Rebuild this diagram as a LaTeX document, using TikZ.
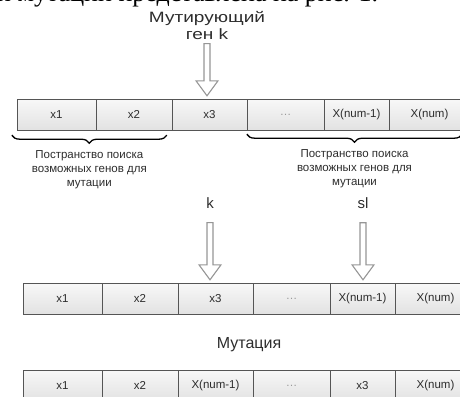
\documentclass[tikz,border=0pt]{standalone}
\usepackage{fontspec}
\setmainfont{Liberation Sans}
\newfontfamily\pageserif{Liberation Serif}
\newfontfamily\widesans[FakeStretch=1.27]{Liberation Sans}
\usepackage{tikz}
\usetikzlibrary{positioning,calc,decorations.pathreplacing}
\definecolor{cellhi}{RGB}{248,248,248}
\definecolor{celllo}{RGB}{226,226,226}
\definecolor{cellrule}{RGB}{85,85,85}
\definecolor{labtxt}{RGB}{45,45,45}
\definecolor{arrgray}{RGB}{150,150,150}
% hollow block arrow pointing down from #2 to #3, #1 = gap below #2
\newcommand{\hollowdown}[3][2]{%
  \draw[hollow] let \p1=(#2.south), \p2=(#3.north) in
    (\x1-3pt,\y1-#1pt) -- (\x1-3pt,\y2+18pt) -- (\x1-11pt,\y2+18pt) -- (\x1,\y2+3pt)
    -- (\x1+11pt,\y2+18pt) -- (\x1+3pt,\y2+18pt) -- (\x1+3pt,\y1-#1pt) -- cycle;}

\begin{document}
\begin{tikzpicture}[x=1pt,y=-1pt,font=\fontsize{11.5}{14}\selectfont,
  cell/.style={draw=cellrule,top color=cellhi,bottom color=celllo,minimum height=31pt,inner sep=0pt,text=labtxt},
  big/.style={font=\fontsize{15}{20}\selectfont,text=labtxt,inner sep=0pt},
  hollow/.style={draw=arrgray,fill=white,line width=1.1pt,line join=miter},
  curly/.style={decorate,decoration={brace,amplitude=8pt,mirror},line width=1.3pt},
  note/.style={align=center,text=labtxt,inner sep=0pt}]
  \useasboundingbox (0,0) rectangle (460,396);
  \begin{scope}
  \clip (0,0) rectangle (460,396);
  \node[anchor=base west,inner sep=0pt] (pagetxt) at (-3,2)
    {\pageserif\fontsize{26pt}{30pt}\selectfont и мутации представлена на рис. 1.};
  % chromosome rows: before, marked genes, after mutation
  \foreach \r/\y/\dx in {1/99/0, 2/283/6, 3/370/6} {
    \foreach \c/\xl/\xr/\before/\after in {1/17/96/x1/x1, 2/96/172/x2/x2, 3/172/247/x3/X(num-1),
        4/247/324/{\color{black!40}\ldots}/{\color{black!40}\ldots},
        5/324/389/X(num-1)/x3, 6/389/470/X(num)/X(num)} {
      \node[cell,minimum width={\xr pt-\xl pt}] (r\r-\c) at ({(\xl+\xr)/2+\dx},{\y+15.5})
        {\ifnum\r=3 \after\else\before\fi};
    }
  }
  % labels and arrows
  \node[big,align=center,anchor=north,font=\widesans\fontsize{15}{17}\selectfont] (genk) at (207,11)
    {Мутирующий\\ген k};
  \hollowdown[4]{genk}{r1-3}
  \node[big] (lblk) at (210,203) {k};
  \node[big] (lblsl) at (363,203) {sl};
  \hollowdown[14]{lblk}{r2-3}
  \hollowdown[14]{lblsl}{r2-5}
  \node[big,font=\fontsize{16}{20}\selectfont] (mut) at (249,345) {Мутация};
  % search spaces
  \draw[curly] ([xshift=-5pt,yshift=-5pt]r1-1.south west) -- ([xshift=-5pt,yshift=-5pt]r1-3.south west)
    node[midway,below=15pt,note] (spaceL) {Постранство поиска\\возможных генов для\\мутации};
  \draw[curly] ([yshift=-4pt]r1-4.south west) -- ([xshift=-8pt,yshift=-4pt]r1-6.south east)
    node[midway,below=15pt,note] (spaceR) {Постранство поиска\\возможных генов для\\мутации};
  \end{scope}
\end{tikzpicture}
\end{document}
